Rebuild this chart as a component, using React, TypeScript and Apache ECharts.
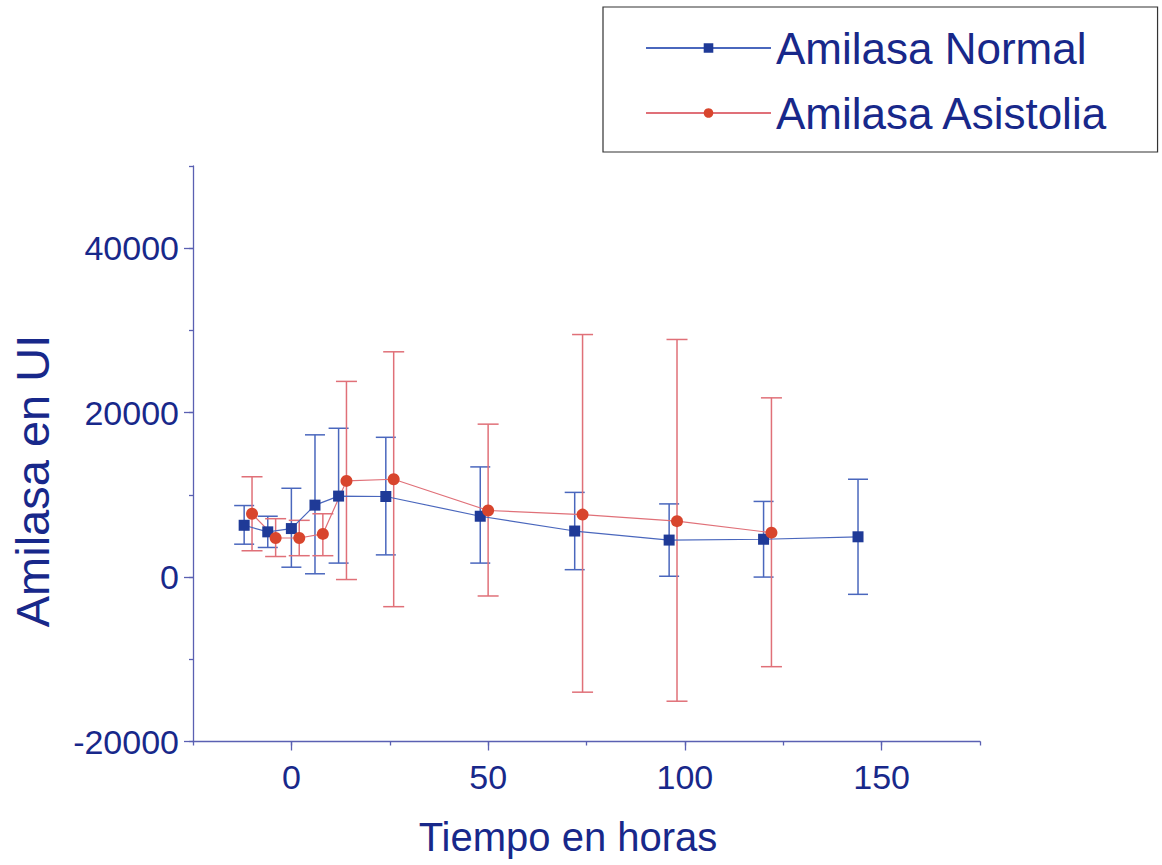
import React, { useEffect, useRef } from 'react';
import * as echarts from 'echarts';

// Tiempo (horas) and amylase values (UI): mean, lower and upper error bar ends
const hoursNormal = [-12, -6, 0, 6, 12, 24, 48, 72, 96, 120, 144];
const meanNormal = [6300, 5500, 5900, 8750, 9850, 9800, 7400, 5600, 4500, 4600, 4900];
const lowNormal = [4000, 3600, 1200, 400, 1700, 2700, 1700, 900, 100, 0, -2100];
const highNormal = [8700, 7400, 10800, 17300, 18100, 17000, 13400, 10300, 8900, 9200, 11900];

const hoursAsistolia = [-10, -4, 2, 8, 14, 26, 50, 74, 98, 122];
const meanAsistolia = [7700, 4750, 4750, 5250, 11700, 11900, 8100, 7600, 6800, 5400];
const lowAsistolia = [3200, 2500, 2600, 2600, -300, -3600, -2300, -14000, -15100, -10900];
const highAsistolia = [12200, 7100, 6900, 7700, 23800, 27400, 18600, 29500, 28900, 21800];

const xTickValues = [0, 50, 100, 150];
const yTickValues = [-20000, 0, 20000, 40000];

const seriesNames = ['Amilasa Normal', 'Amilasa Asistolia'];

const FONT = '"Liberation Sans", Arial, Helvetica, sans-serif';
const TEXT = '#18288a';
const AXIS = '#5a60b2';
const BLUE_MARK = '#1f3a97';
const BLUE_LINE = '#4a67bd';
const RED_MARK = '#d8452d';
const RED_LINE = '#e07078';

function errorBars(color: string, capHalf: number) {
  return (params: any, api: any) => {
    const x = api.value(0);
    const lo = api.value(1);
    const hi = api.value(2);
    const top = api.coord([x, hi]);
    const bot = api.coord([x, lo]);
    const style = { stroke: color, lineWidth: 1.5 };
    return {
      type: 'group',
      children: [
        { type: 'line', shape: { x1: top[0], y1: top[1], x2: bot[0], y2: bot[1] }, style },
        { type: 'line', shape: { x1: top[0] - capHalf, y1: top[1], x2: top[0] + capHalf, y2: top[1] }, style },
        { type: 'line', shape: { x1: bot[0] - capHalf, y1: bot[1], x2: bot[0] + capHalf, y2: bot[1] }, style },
      ],
    };
  };
}

const plain = (v: number) => String(v);

export default function App() {
  const ref = useRef<HTMLDivElement>(null);
  useEffect(() => {
    if (!ref.current) return;
    const chart = echarts.init(ref.current, undefined, { renderer: 'svg' });
    const axisLineStyle = { color: AXIS, width: 1.3 };
    chart.setOption({
      animation: false,
      backgroundColor: '#ffffff',
      textStyle: { fontFamily: FONT },
      grid: { left: 193, top: 166, right: 182, bottom: 123.5, containLabel: false, outerBoundsMode: 'none' },
      legend: {
        data: seriesNames,
        orient: 'vertical',
        left: 603,
        top: 7,
        padding: [19, 49, 17, 42],
        itemGap: 21,
        itemWidth: 125,
        itemHeight: 12,
        borderColor: '#333333',
        borderWidth: 1.2,
        textStyle: { fontSize: 44, color: TEXT, fontFamily: FONT },
        selectedMode: false,
      },
      xAxis: [
        {
          type: 'value', min: -25, max: 175, interval: 25,
          axisLine: { show: true, onZero: false, lineStyle: axisLineStyle },
          axisTick: { show: true, length: 4, lineStyle: axisLineStyle },
          axisLabel: { show: false },
          splitLine: { show: false },
        },
        {
          type: 'value', min: -25, max: 175, position: 'bottom',
          axisLine: { show: false, onZero: false },
          axisTick: { show: true, length: 9, customValues: xTickValues, lineStyle: axisLineStyle },
          axisLabel: { customValues: xTickValues, formatter: plain, fontSize: 34, color: TEXT, margin: 18, fontFamily: FONT },
          splitLine: { show: false },
        },
      ],
      yAxis: [
        {
          type: 'value', min: -20000, max: 50000, interval: 10000,
          axisLine: { show: true, onZero: false, lineStyle: axisLineStyle },
          axisTick: { show: true, length: 4, lineStyle: axisLineStyle },
          axisLabel: { show: false },
          splitLine: { show: false },
        },
        {
          type: 'value', min: -20000, max: 50000, position: 'left', offset: 0,
          axisLine: { show: false, onZero: false },
          axisTick: { show: true, length: 9, customValues: yTickValues, lineStyle: axisLineStyle },
          axisLabel: { customValues: yTickValues, formatter: plain, fontSize: 34, color: TEXT, margin: 14, fontFamily: FONT },
          splitLine: { show: false },
        },
      ],
      graphic: [
        {
          type: 'text', x: 568, y: 837,
          style: { text: 'Tiempo en horas', fontSize: 40, fill: TEXT, fontFamily: FONT, align: 'center', verticalAlign: 'middle' },
        },
        {
          type: 'text', x: 32, y: 481, rotation: Math.PI / 2,
          style: { text: 'Amilasa en UI', fontSize: 47, fill: TEXT, fontFamily: FONT, align: 'center', verticalAlign: 'middle' },
        },
      ],
      series: [
        {
          name: 'err-normal', type: 'custom', xAxisIndex: 0, yAxisIndex: 0,
          data: hoursNormal.map((h, i) => [h, lowNormal[i], highNormal[i]]),
          encode: { x: 0, y: [1, 2] },
          renderItem: errorBars(BLUE_LINE, 10),
          z: 1, silent: true,
        },
        {
          name: 'err-asistolia', type: 'custom', xAxisIndex: 0, yAxisIndex: 0,
          data: hoursAsistolia.map((h, i) => [h, lowAsistolia[i], highAsistolia[i]]),
          encode: { x: 0, y: [1, 2] },
          renderItem: errorBars(RED_LINE, 10.5),
          z: 1, silent: true,
        },
        {
          name: seriesNames[0], type: 'line', xAxisIndex: 0, yAxisIndex: 0,
          data: hoursNormal.map((h, i) => [h, meanNormal[i]]),
          symbol: 'rect', symbolSize: 11,
          itemStyle: { color: BLUE_MARK },
          lineStyle: { color: BLUE_LINE, width: 1.2 },
          z: 3,
        },
        {
          name: seriesNames[1], type: 'line', xAxisIndex: 0, yAxisIndex: 0,
          data: hoursAsistolia.map((h, i) => [h, meanAsistolia[i]]),
          symbol: 'circle', symbolSize: 12,
          itemStyle: { color: RED_MARK },
          lineStyle: { color: RED_LINE, width: 1.2 },
          z: 3,
        },
      ],
    });
    return () => chart.dispose();
  }, []);
  return <div ref={ref} style={{ position: 'absolute', left: 0, top: 0, width: 1162, height: 865 }} />;
}
